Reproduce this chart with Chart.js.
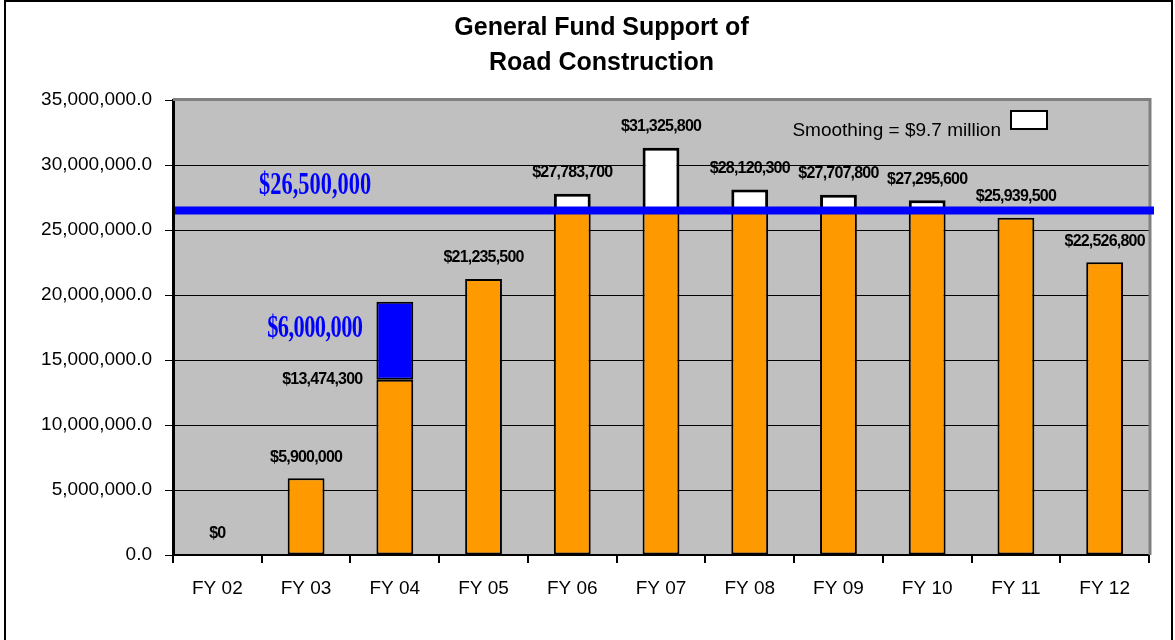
<!DOCTYPE html>
<html>
<head>
<meta charset="utf-8">
<title>General Fund Support of Road Construction</title>
<script src="https://cdn.jsdelivr.net/npm/chart.js@4.4.1/dist/chart.umd.min.js"></script>
<style>
  html, body { margin: 0; padding: 0; background: #fff; }
  canvas { display: block; }
</style>
</head>
<body>
<canvas id="roadChart" width="1175" height="640"></canvas>
<script>
// fiscal years and general fund support per year
const categories = ['FY 02', 'FY 03', 'FY 04', 'FY 05', 'FY 06', 'FY 07', 'FY 08', 'FY 09', 'FY 10', 'FY 11', 'FY 12'];
const support = [0, 5900000, 13474300, 21235500, 27783700, 31325800, 28120300, 27707800, 27295600, 25939500, 22526800];
// one-time addition stacked on FY 04
const addition = [0, 0, 6000000, 0, 0, 0, 0, 0, 0, 0, 0];
// flat funding level; anything above it counts as smoothing
const targetLevel = 26500000;
const yTicks = [0, 5000000, 10000000, 15000000, 20000000, 25000000, 30000000, 35000000];

const titleLines = ['General Fund Support of', 'Road Construction'];
const legendText = 'Smoothing = $9.7 million';

// split each year into the part up to the target and the smoothed excess
const basePart = support.map(v => Math.min(v, targetLevel));
const smoothPart = support.map(v => (v > targetLevel ? v - targetLevel : null));
const addPart = addition.map(v => (v > 0 ? v : null));

const money = v => '$' + v.toLocaleString('en-US');
const SANS = '"Liberation Sans", Arial, sans-serif';

const decor = {
  id: 'decor',
  beforeDraw(chart) {
    const { ctx, chartArea: a, width } = chart;
    ctx.save();
    ctx.fillStyle = '#fff';
    ctx.fillRect(0, 0, chart.width, chart.height);
    // outer frame
    ctx.strokeStyle = '#000';
    ctx.lineWidth = 2;
    ctx.strokeRect(5, 1, 1167, 700);
    // plot background
    ctx.fillStyle = '#c0c0c0';
    ctx.fillRect(a.left, a.top, a.right - a.left, a.bottom - a.top);
    // title
    ctx.fillStyle = '#000';
    ctx.font = 'bold 25px ' + SANS;
    ctx.textAlign = 'center';
    ctx.textBaseline = 'middle';
    titleLines.forEach((t, i) => ctx.fillText(t, width / 2 + 14, 28 + i * 35));
    ctx.restore();
  },
  afterDatasetsDraw(chart) {
    const { ctx, chartArea: a, scales } = chart;
    const y = scales.y;
    ctx.save();
    // gray plot frame on top and right
    ctx.strokeStyle = '#808080';
    ctx.lineWidth = 3;
    ctx.beginPath();
    ctx.moveTo(a.left, a.top - 0.5);
    ctx.lineTo(a.right + 1, a.top - 0.5);
    ctx.lineTo(a.right + 1, a.bottom);
    ctx.stroke();

    // target line
    const ty = y.getPixelForValue(targetLevel);
    ctx.strokeStyle = '#0000ff';
    ctx.lineWidth = 8;
    ctx.beginPath();
    ctx.moveTo(a.left + 2, ty);
    ctx.lineTo(a.right + 5, ty);
    ctx.stroke();

    // blue condensed serif notes
    const meta = chart.getDatasetMeta(0);
    const drawNote = (text, x, yy, align) => {
      ctx.save();
      ctx.translate(x, yy);
      ctx.scale(0.7, 1);
      ctx.font = 'bold 32px "Liberation Serif", "DejaVu Serif", serif';
      ctx.fillStyle = '#0000ff';
      ctx.textAlign = align;
      ctx.textBaseline = 'middle';
      ctx.fillText(text, 0, 0);
      ctx.restore();
    };
    drawNote(money(targetLevel), meta.data[1].x + 9, ty - 25, 'center');

    // value labels
    ctx.font = 'bold 16px ' + SANS;
    ctx.letterSpacing = '-0.8px';
    ctx.fillStyle = '#000';
    ctx.textBaseline = 'middle';
    support.forEach((v, i) => {
      const bar = meta.data[i];
      const left = bar.x - bar.width / 2;
      if (addition[i] > 0) {
        ctx.textAlign = 'right';
        ctx.fillText(money(v), left - 14, y.getPixelForValue(v));
        const topAdd = y.getPixelForValue(v + addition[i]);
        drawNote(money(addition[i]), left - 14, (topAdd + y.getPixelForValue(v)) / 2 - 12, 'right');
      } else {
        ctx.textAlign = 'center';
        ctx.fillText(money(v), bar.x, y.getPixelForValue(v) - 21);
      }
    });

    // smoothing legend
    ctx.letterSpacing = '0px';
    ctx.font = '19px ' + SANS;
    ctx.textAlign = 'right';
    ctx.fillText(legendText, a.right - 148, a.top + 31);
    ctx.fillStyle = '#fff';
    ctx.fillRect(a.right - 138, a.top + 11, 36, 18);
    ctx.strokeStyle = '#000';
    ctx.lineWidth = 2;
    ctx.strokeRect(a.right - 138, a.top + 11, 36, 18);
    ctx.restore();
  }
};

const barStyle = {
  borderColor: '#000',
  borderWidth: 2,
  borderSkipped: false,
  categoryPercentage: 1,
  barPercentage: 0.415
};

new Chart(document.getElementById('roadChart'), {
  type: 'bar',
  data: {
    labels: categories,
    datasets: [
      Object.assign({ label: 'General Fund', data: basePart, backgroundColor: '#ff9900' }, barStyle),
      Object.assign({ label: 'Addition', data: addPart, backgroundColor: '#0000ff' }, barStyle),
      Object.assign({ label: 'Smoothing', data: smoothPart, backgroundColor: '#ffffff', borderWidth: 3 }, barStyle, { borderWidth: 3 })
    ]
  },
  options: {
    responsive: false,
    animation: false,
    devicePixelRatio: 1,
    layout: { padding: { top: 100, right: 26, left: 0, bottom: 0 } },
    plugins: {
      legend: { display: false },
      title: { display: false },
      tooltip: { enabled: false }
    },
    scales: {
      x: {
        stacked: true,
        grid: { offset: true, drawOnChartArea: false, color: '#000', tickLength: 8, lineWidth: 2 },
        border: { color: '#000', width: 2 },
        ticks: {
          color: '#000',
          padding: 14,
          font: { size: 19, family: SANS }
        },
        afterFit(s) { s.height = 85; }
      },
      y: {
        stacked: true,
        min: 0,
        max: 35000000,
        afterBuildTicks(s) { s.ticks = yTicks.map(v => ({ value: v })); },
        grid: { color: '#000', lineWidth: 1, tickLength: 8 },
        border: { color: '#000', width: 3 },
        ticks: {
          color: '#000',
          padding: 13,
          font: { size: 19, family: SANS },
          callback: v => v.toLocaleString('en-US', { minimumFractionDigits: 1, maximumFractionDigits: 1 })
        },
        afterFit(s) { s.width = 173; }
      }
    }
  },
  plugins: [decor]
});
</script>
</body>
</html>
